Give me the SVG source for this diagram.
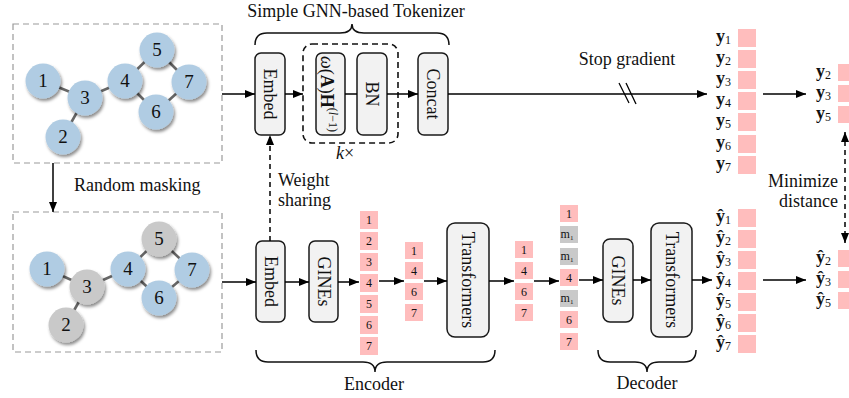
<svg xmlns="http://www.w3.org/2000/svg" width="849" height="398" viewBox="0 0 849 398" font-family="'Liberation Serif', 'DejaVu Serif', serif">
<defs>
<style>
text{font-family:'Liberation Serif','DejaVu Serif',serif;fill:#111}
.lbl{font-size:18px}
.frame{fill:none;stroke:#9a9a9a;stroke-width:1.2;stroke-dasharray:6 4}
.edge{stroke:#666;stroke-width:2.6}
.nb{fill:#b0cce3}
.ng{fill:#c9c9c9}
.nt{font-size:19px;text-anchor:middle}
.box{fill:#f2f2f2;stroke:#1a1a1a;stroke-width:1.5}
.bt{font-size:18px;text-anchor:middle;dominant-baseline:central}
.arr{stroke:#000;stroke-width:1.5;fill:none;marker-end:url(#ah)}
.tk{fill:#ffbdbd}
.tg{fill:#c9c9c9}
.tt{font-size:12px;text-anchor:middle}
.brace{fill:none;stroke:#111;stroke-width:1.5}
.yl{font-size:18px;font-weight:bold}
.sub{font-size:12px;font-weight:normal}
</style>
<marker id="ah" viewBox="0 0 10 8" refX="10" refY="4" markerWidth="10" markerHeight="8" markerUnits="userSpaceOnUse" orient="auto"><path d="M0,0 L10,4 L0,8 Z" fill="#000"/></marker>
<marker id="ahs" viewBox="0 0 10 8" refX="10" refY="4" markerWidth="10" markerHeight="8" markerUnits="userSpaceOnUse" orient="auto-start-reverse"><path d="M0,0 L10,4 L0,8 Z" fill="#000"/></marker>
<filter id="sh" x="-30%" y="-30%" width="170%" height="170%"><feDropShadow dx="1.5" dy="2.5" stdDeviation="1.5" flood-color="#000" flood-opacity="0.45"/></filter>
</defs>

<!-- top graph -->
<g id="graph-top">
<rect class="frame" x="13" y="24" width="209" height="139"/>
<g class="edges">
<line class="edge" x1="43" y1="81" x2="85" y2="98"/>
<line class="edge" x1="63" y1="137" x2="85" y2="98"/>
<line class="edge" x1="85" y1="98" x2="125" y2="81"/>
<line class="edge" x1="125" y1="81" x2="157" y2="50"/>
<line class="edge" x1="157" y1="50" x2="189" y2="82"/>
<line class="edge" x1="189" y1="82" x2="156" y2="112"/>
<line class="edge" x1="156" y1="112" x2="125" y2="81"/>
</g>
<g id="t1"><circle class="nb" cx="43" cy="81" r="17.5" filter="url(#sh)"/><text class="nt" x="43" y="87">1</text></g>
<g id="t2"><circle class="nb" cx="63" cy="137" r="17.5" filter="url(#sh)"/><text class="nt" x="63" y="143">2</text></g>
<g id="t3"><circle class="nb" cx="85" cy="98" r="17.5" filter="url(#sh)"/><text class="nt" x="85" y="104">3</text></g>
<g id="t4"><circle class="nb" cx="125" cy="81" r="17.5" filter="url(#sh)"/><text class="nt" x="125" y="87">4</text></g>
<g id="t5"><circle class="nb" cx="157" cy="50" r="17.5" filter="url(#sh)"/><text class="nt" x="157" y="56">5</text></g>
<g id="t6"><circle class="nb" cx="156" cy="112" r="17.5" filter="url(#sh)"/><text class="nt" x="156" y="118">6</text></g>
<g id="t7"><circle class="nb" cx="189" cy="82" r="17.5" filter="url(#sh)"/><text class="nt" x="189" y="88">7</text></g>
</g>

<!-- bottom graph -->
<g id="graph-bottom">
<rect class="frame" x="13" y="212" width="209" height="140"/>
<g class="edges">
<line class="edge" x1="47" y1="269" x2="87" y2="287"/>
<line class="edge" x1="66" y1="325" x2="87" y2="287"/>
<line class="edge" x1="87" y1="287" x2="128" y2="269"/>
<line class="edge" x1="128" y1="269" x2="159" y2="239"/>
<line class="edge" x1="159" y1="239" x2="192" y2="270"/>
<line class="edge" x1="192" y1="270" x2="159" y2="298"/>
<line class="edge" x1="159" y1="298" x2="128" y2="269"/>
</g>
<g id="b1"><circle class="nb" cx="47" cy="269" r="17.5" filter="url(#sh)"/><text class="nt" x="47" y="275">1</text></g>
<g id="b2"><circle class="ng" cx="66" cy="325" r="17.5" filter="url(#sh)"/><text class="nt" x="66" y="331">2</text></g>
<g id="b3"><circle class="ng" cx="87" cy="287" r="17.5" filter="url(#sh)"/><text class="nt" x="87" y="293">3</text></g>
<g id="b4"><circle class="nb" cx="128" cy="269" r="17.5" filter="url(#sh)"/><text class="nt" x="128" y="275">4</text></g>
<g id="b5"><circle class="ng" cx="159" cy="239" r="17.5" filter="url(#sh)"/><text class="nt" x="159" y="245">5</text></g>
<g id="b6"><circle class="nb" cx="159" cy="298" r="17.5" filter="url(#sh)"/><text class="nt" x="159" y="304">6</text></g>
<g id="b7"><circle class="nb" cx="192" cy="270" r="17.5" filter="url(#sh)"/><text class="nt" x="192" y="276">7</text></g>
</g>

<!-- tokenizer -->
<g id="tokenizer-label">
<text class="lbl" x="356" y="17" text-anchor="middle">Simple GNN-based Tokenizer</text>
<path class="brace" d="M255,45 Q255,33 267,33 L340,33 Q352,33 352,24 Q352,33 364,33 L437,33 Q449,33 449,45"/>
</g>
<g id="embed-top"><rect class="box" x="255" y="53" width="30" height="82" rx="6"/><text class="bt" transform="translate(270,94) rotate(90)">Embed</text></g>
<g id="kloop">
<rect x="303" y="44" width="95" height="99" rx="9" fill="none" stroke="#111" stroke-width="1.6" stroke-dasharray="6 4"/>
<text class="lbl" x="345" y="159" text-anchor="middle"><tspan font-style="italic">k</tspan>×</text>
</g>
<g id="gnn-layer"><rect class="box" x="316" y="53" width="29" height="82" rx="6"/><text class="bt" font-size="17" transform="translate(327,94) rotate(90)"><tspan font-style="italic">ω</tspan>(<tspan font-weight="bold">A</tspan>)<tspan font-weight="bold">H</tspan><tspan font-size="12" dy="-6">(<tspan font-style="italic">l</tspan>−1)</tspan></text></g>
<g id="bn"><rect class="box" x="357" y="53" width="30" height="82" rx="6"/><text class="bt" transform="translate(372,94) rotate(90)">BN</text></g>
<g id="concat"><rect class="box" x="418" y="53" width="30" height="82" rx="6"/><text class="bt" transform="translate(433,94) rotate(90)">Concat</text></g>

<!-- targets -->
<g id="y-all">
<rect class="tk" x="738" y="29" width="18" height="18"/>
<rect class="tk" x="738" y="50" width="18" height="18"/>
<rect class="tk" x="738" y="71" width="18" height="18"/>
<rect class="tk" x="738" y="92" width="18" height="18"/>
<rect class="tk" x="738" y="113" width="18" height="18"/>
<rect class="tk" x="738" y="135" width="18" height="18"/>
<rect class="tk" x="738" y="156" width="18" height="18"/>
<text class="yl" x="716" y="42">y<tspan class="sub" dy="2">1</tspan></text>
<text class="yl" x="716" y="63">y<tspan class="sub" dy="2">2</tspan></text>
<text class="yl" x="716" y="84">y<tspan class="sub" dy="2">3</tspan></text>
<text class="yl" x="716" y="105">y<tspan class="sub" dy="2">4</tspan></text>
<text class="yl" x="716" y="126">y<tspan class="sub" dy="2">5</tspan></text>
<text class="yl" x="716" y="148">y<tspan class="sub" dy="2">6</tspan></text>
<text class="yl" x="716" y="169">y<tspan class="sub" dy="2">7</tspan></text>
</g>
<g id="y-masked">
<rect class="tk" x="838" y="64" width="18" height="17"/>
<rect class="tk" x="838" y="85" width="18" height="17"/>
<rect class="tk" x="838" y="106" width="18" height="17"/>
<text class="yl" x="816" y="77">y<tspan class="sub" dy="2">2</tspan></text>
<text class="yl" x="816" y="98">y<tspan class="sub" dy="2">3</tspan></text>
<text class="yl" x="816" y="119">y<tspan class="sub" dy="2">5</tspan></text>
</g>

<!-- encoder -->
<g id="embed-bottom"><rect class="box" x="256" y="241" width="29" height="81" rx="6"/><text class="bt" transform="translate(270.5,281.5) rotate(90)">Embed</text></g>
<g id="gines-enc"><rect class="box" x="309" y="241" width="29" height="81" rx="6"/><text class="bt" transform="translate(323.5,281.5) rotate(90)">GINEs</text></g>
<g id="tokens-all">
<rect class="tk" x="360" y="211" width="18" height="18"/><text class="tt" x="369" y="224">1</text>
<rect class="tk" x="360" y="232" width="18" height="18"/><text class="tt" x="369" y="245">2</text>
<rect class="tk" x="360" y="253" width="18" height="18"/><text class="tt" x="369" y="266">3</text>
<rect class="tk" x="360" y="274" width="18" height="18"/><text class="tt" x="369" y="287">4</text>
<rect class="tk" x="360" y="295" width="18" height="18"/><text class="tt" x="369" y="308">5</text>
<rect class="tk" x="360" y="316" width="18" height="18"/><text class="tt" x="369" y="329">6</text>
<rect class="tk" x="360" y="337" width="18" height="18"/><text class="tt" x="369" y="350">7</text>
</g>
<g id="tokens-visible">
<rect class="tk" x="405" y="242" width="18" height="17"/><text class="tt" x="414" y="255">1</text>
<rect class="tk" x="405" y="262" width="18" height="17"/><text class="tt" x="414" y="275">4</text>
<rect class="tk" x="405" y="283" width="18" height="17"/><text class="tt" x="414" y="296">6</text>
<rect class="tk" x="405" y="304" width="18" height="17"/><text class="tt" x="414" y="317">7</text>
</g>
<g id="transformers-enc"><rect class="box" x="447" y="223" width="42" height="114" rx="8"/><text class="bt" transform="translate(468,280) rotate(90)">Transformers</text></g>
<g id="tokens-encoded">
<rect class="tk" x="515" y="241" width="18" height="17"/><text class="tt" x="524" y="254">1</text>
<rect class="tk" x="515" y="262" width="18" height="17"/><text class="tt" x="524" y="275">4</text>
<rect class="tk" x="515" y="283" width="18" height="17"/><text class="tt" x="524" y="296">6</text>
<rect class="tk" x="515" y="304" width="18" height="17"/><text class="tt" x="524" y="317">7</text>
</g>
<g id="encoder-label">
<path class="brace" d="M256,350 Q256,362 268,362 L363,362 Q375,362 375,372 Q375,362 387,362 L483,362 Q495,362 495,350"/>
<text class="lbl" x="374" y="390" text-anchor="middle">Encoder</text>
</g>

<!-- decoder -->
<g id="tokens-with-mask">
<rect class="tk" x="560" y="205" width="18" height="17"/><text class="tt" x="569" y="218">1</text>
<rect class="tg" x="560" y="226" width="18" height="17"/><text class="tt" x="567" y="238" font-size="10">m<tspan font-size="7" dy="2">1</tspan></text>
<rect class="tg" x="560" y="248" width="18" height="17"/><text class="tt" x="567" y="260" font-size="10">m<tspan font-size="7" dy="2">1</tspan></text>
<rect class="tk" x="560" y="269" width="18" height="17"/><text class="tt" x="569" y="282">4</text>
<rect class="tg" x="560" y="290" width="18" height="17"/><text class="tt" x="567" y="302" font-size="10">m<tspan font-size="7" dy="2">1</tspan></text>
<rect class="tk" x="560" y="311" width="18" height="17"/><text class="tt" x="569" y="324">6</text>
<rect class="tk" x="560" y="333" width="18" height="17"/><text class="tt" x="569" y="346">7</text>
</g>
<g id="gines-dec"><rect class="box" x="603" y="239" width="30" height="83" rx="7"/><text class="bt" transform="translate(618,280.5) rotate(90)">GINEs</text></g>
<g id="transformers-dec"><rect class="box" x="651" y="223" width="41" height="114" rx="8"/><text class="bt" transform="translate(671.5,280) rotate(90)">Transformers</text></g>
<g id="decoder-label">
<path class="brace" d="M598,350 Q598,362 610,362 L635,362 Q647,362 647,372 Q647,362 659,362 L684,362 Q696,362 696,350"/>
<text class="lbl" x="647" y="389" text-anchor="middle">Decoder</text>
</g>
<g id="yhat-all">
<rect class="tk" x="738" y="209" width="18" height="18"/>
<rect class="tk" x="738" y="230" width="18" height="18"/>
<rect class="tk" x="738" y="251" width="18" height="18"/>
<rect class="tk" x="738" y="272" width="18" height="18"/>
<rect class="tk" x="738" y="293" width="18" height="18"/>
<rect class="tk" x="738" y="314" width="18" height="18"/>
<rect class="tk" x="738" y="335" width="18" height="18"/>
<text class="yl" x="716" y="222">ŷ<tspan class="sub" dy="2">1</tspan></text>
<text class="yl" x="716" y="243">ŷ<tspan class="sub" dy="2">2</tspan></text>
<text class="yl" x="716" y="264">ŷ<tspan class="sub" dy="2">3</tspan></text>
<text class="yl" x="716" y="285">ŷ<tspan class="sub" dy="2">4</tspan></text>
<text class="yl" x="716" y="306">ŷ<tspan class="sub" dy="2">5</tspan></text>
<text class="yl" x="716" y="327">ŷ<tspan class="sub" dy="2">6</tspan></text>
<text class="yl" x="716" y="348">ŷ<tspan class="sub" dy="2">7</tspan></text>
</g>
<g id="yhat-masked">
<rect class="tk" x="838" y="250" width="18" height="17"/>
<rect class="tk" x="838" y="271" width="18" height="17"/>
<rect class="tk" x="838" y="292" width="18" height="17"/>
<text class="yl" x="816" y="263">ŷ<tspan class="sub" dy="2">2</tspan></text>
<text class="yl" x="816" y="284">ŷ<tspan class="sub" dy="2">3</tspan></text>
<text class="yl" x="816" y="305">ŷ<tspan class="sub" dy="2">5</tspan></text>
</g>

<!-- labels -->
<text class="lbl" x="74" y="191">Random masking</text>
<text class="lbl" x="278" y="186">Weight</text>
<text class="lbl" x="278" y="206">sharing</text>
<text class="lbl" x="627" y="65" text-anchor="middle">Stop gradient</text>
<text class="lbl" x="838" y="187" text-anchor="end">Minimize</text>
<text class="lbl" x="838" y="207" text-anchor="end">distance</text>

<!-- connectors -->
<g id="connectors">
<line class="arr" x1="53" y1="163" x2="53" y2="212"/>
<line class="arr" x1="222" y1="94" x2="255" y2="94"/>
<line class="arr" x1="285" y1="94" x2="303" y2="94"/>
<line x1="345" y1="94" x2="357" y2="94" stroke="#000" stroke-width="1.5"/>
<line class="arr" x1="387" y1="94" x2="418" y2="94"/>
<line class="arr" x1="448" y1="94" x2="707" y2="94"/>
<line x1="619" y1="83" x2="629" y2="103" stroke="#000" stroke-width="1.3"/>
<line x1="626" y1="83" x2="636" y2="104" stroke="#000" stroke-width="1.3"/>
<line class="arr" x1="763" y1="94" x2="806" y2="94"/>
<line x1="270" y1="241" x2="270" y2="135" stroke="#000" stroke-width="1.5" stroke-dasharray="5 4" marker-end="url(#ah)"/>
<line x1="845" y1="132" x2="845" y2="243" stroke="#000" stroke-width="1.5" stroke-dasharray="5 4" marker-start="url(#ahs)" marker-end="url(#ah)"/>
<line class="arr" x1="222" y1="282" x2="256" y2="282"/>
<line class="arr" x1="285" y1="282" x2="309" y2="282"/>
<line class="arr" x1="338" y1="282" x2="359" y2="282"/>
<line class="arr" x1="379" y1="281" x2="404" y2="281"/>
<line class="arr" x1="424" y1="281" x2="447" y2="281"/>
<line class="arr" x1="489" y1="281" x2="514" y2="281"/>
<line class="arr" x1="534" y1="281" x2="559" y2="281"/>
<line class="arr" x1="579" y1="280" x2="603" y2="280"/>
<line class="arr" x1="633" y1="280" x2="651" y2="280"/>
<line class="arr" x1="692" y1="280" x2="712" y2="280"/>
<line class="arr" x1="763" y1="280" x2="806" y2="280"/>
</g>
</svg>
